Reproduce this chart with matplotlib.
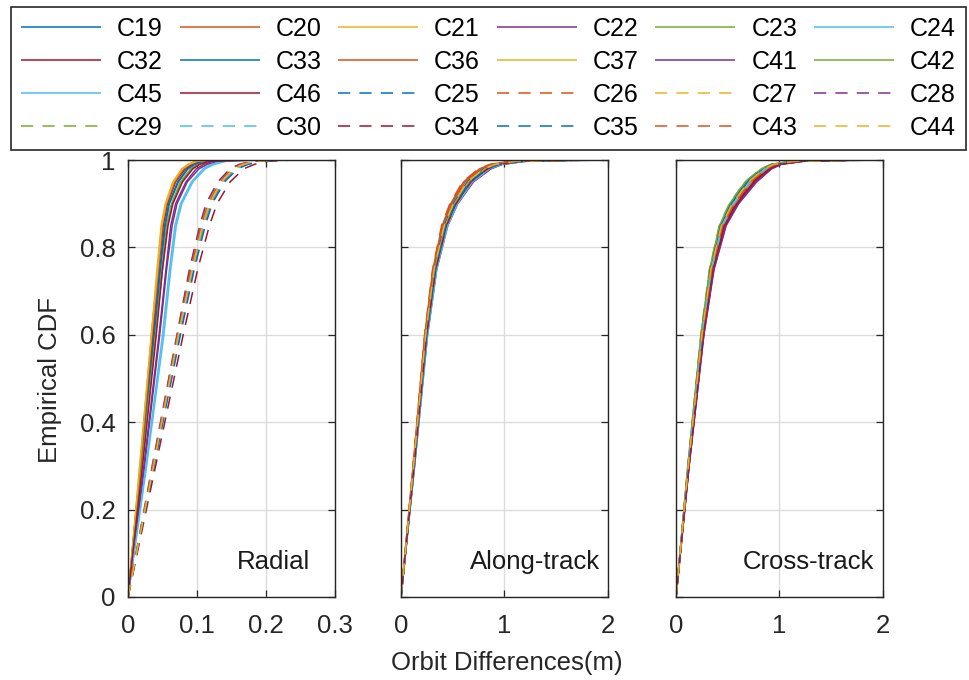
import matplotlib
matplotlib.use("Agg")
import matplotlib.pyplot as plt

plt.rcParams['font.family'] = ['Liberation Sans', 'DejaVu Sans']

# ---------------- data ----------------
sats = ["C19", "C20", "C21", "C22", "C23", "C24", "C32", "C33", "C36", "C37",
        "C41", "C42", "C45", "C46", "C25", "C26", "C27", "C28", "C29", "C30",
        "C34", "C35", "C43", "C44"]

# cumulative probability levels at which the quantiles were read
levels = [0, 0.3, 0.6, 0.75, 0.85, 0.9, 0.95, 0.98, 0.99, 0.997, 1.0]

# radial orbit differences (m) at each level, one row per satellite
radial_q = [
    [0, 0.019, 0.037, 0.046, 0.053, 0.059, 0.072, 0.086, 0.095, 0.106, 0.125],
    [0, 0.018, 0.034, 0.043, 0.049, 0.055, 0.067, 0.079, 0.088, 0.099, 0.118],
    [0, 0.017, 0.034, 0.042, 0.048, 0.054, 0.065, 0.078, 0.087, 0.097, 0.112],
    [0, 0.024, 0.046, 0.056, 0.064, 0.071, 0.086, 0.103, 0.115, 0.130, 0.152],
    [0, 0.020, 0.039, 0.049, 0.056, 0.063, 0.076, 0.091, 0.101, 0.114, 0.134],
    [0, 0.026, 0.050, 0.060, 0.068, 0.076, 0.092, 0.109, 0.121, 0.136, 0.160],
    [0, 0.018, 0.036, 0.044, 0.051, 0.057, 0.069, 0.083, 0.092, 0.103, 0.122],
    [0, 0.019, 0.038, 0.047, 0.054, 0.060, 0.073, 0.087, 0.097, 0.109, 0.130],
    [0, 0.018, 0.035, 0.044, 0.050, 0.056, 0.068, 0.081, 0.090, 0.101, 0.120],
    [0, 0.017, 0.034, 0.043, 0.049, 0.055, 0.066, 0.079, 0.089, 0.100, 0.121],
    [0, 0.023, 0.045, 0.055, 0.062, 0.069, 0.084, 0.099, 0.110, 0.123, 0.145],
    [0, 0.020, 0.040, 0.050, 0.057, 0.064, 0.078, 0.092, 0.103, 0.116, 0.140],
    [0, 0.027, 0.052, 0.062, 0.070, 0.078, 0.094, 0.112, 0.125, 0.142, 0.175],
    [0, 0.021, 0.041, 0.050, 0.058, 0.065, 0.079, 0.094, 0.104, 0.117, 0.200],
    [0, 0.037, 0.073, 0.093, 0.108, 0.118, 0.135, 0.153, 0.167, 0.186, 0.215],
    [0, 0.037, 0.075, 0.095, 0.110, 0.120, 0.138, 0.156, 0.171, 0.189, 0.225],
    [0, 0.036, 0.071, 0.090, 0.105, 0.114, 0.131, 0.149, 0.163, 0.181, 0.205],
    [0, 0.035, 0.071, 0.089, 0.104, 0.113, 0.130, 0.148, 0.161, 0.178, 0.210],
    [0, 0.036, 0.073, 0.092, 0.107, 0.117, 0.134, 0.152, 0.166, 0.184, 0.212],
    [0, 0.037, 0.074, 0.094, 0.109, 0.119, 0.136, 0.155, 0.169, 0.187, 0.220],
    [0, 0.040, 0.080, 0.101, 0.118, 0.129, 0.148, 0.168, 0.183, 0.203, 0.240],
    [0, 0.038, 0.076, 0.096, 0.112, 0.122, 0.140, 0.159, 0.174, 0.193, 0.232],
    [0, 0.036, 0.072, 0.091, 0.106, 0.116, 0.133, 0.151, 0.164, 0.182, 0.208],
    [0, 0.037, 0.073, 0.093, 0.108, 0.118, 0.135, 0.153, 0.167, 0.186, 0.218],
]

# along-track orbit differences (m)
along_q = [
    [0, 0.122, 0.240, 0.325, 0.425, 0.515, 0.650, 0.810, 0.920, 1.12, 1.55],
    [0, 0.118, 0.232, 0.312, 0.405, 0.490, 0.620, 0.780, 0.890, 1.08, 1.45],
    [0, 0.124, 0.243, 0.328, 0.430, 0.520, 0.660, 0.825, 0.935, 1.16, 1.70],
    [0, 0.130, 0.255, 0.345, 0.452, 0.548, 0.700, 0.870, 0.980, 1.20, 1.65],
    [0, 0.126, 0.247, 0.333, 0.436, 0.528, 0.668, 0.830, 0.940, 1.14, 1.60],
    [0, 0.131, 0.256, 0.343, 0.448, 0.540, 0.685, 0.850, 0.960, 1.18, 1.75],
    [0, 0.128, 0.250, 0.338, 0.442, 0.535, 0.680, 0.845, 0.955, 1.17, 1.80],
    [0, 0.121, 0.238, 0.320, 0.418, 0.505, 0.640, 0.800, 0.910, 1.10, 1.50],
    [0, 0.117, 0.230, 0.308, 0.398, 0.480, 0.605, 0.760, 0.870, 1.05, 1.40],
    [0, 0.123, 0.242, 0.326, 0.428, 0.518, 0.655, 0.815, 0.925, 1.13, 1.65],
    [0, 0.129, 0.253, 0.342, 0.450, 0.545, 0.695, 0.865, 0.975, 1.19, 1.70],
    [0, 0.125, 0.245, 0.330, 0.432, 0.522, 0.662, 0.822, 0.930, 1.14, 1.55],
    [0, 0.132, 0.258, 0.346, 0.452, 0.545, 0.690, 0.855, 0.965, 1.18, 1.90],
    [0, 0.127, 0.249, 0.336, 0.440, 0.532, 0.675, 0.838, 0.948, 1.16, 1.60],
    [0, 0.124, 0.244, 0.329, 0.431, 0.521, 0.661, 0.820, 0.930, 1.14, 1.85],
    [0, 0.116, 0.228, 0.305, 0.392, 0.472, 0.595, 0.750, 0.860, 1.04, 1.95],
    [0, 0.122, 0.240, 0.323, 0.422, 0.510, 0.648, 0.808, 0.918, 1.12, 1.70],
    [0, 0.128, 0.251, 0.339, 0.446, 0.540, 0.688, 0.855, 0.965, 1.18, 1.75],
    [0, 0.123, 0.242, 0.326, 0.427, 0.517, 0.655, 0.815, 0.925, 1.13, 1.60],
    [0, 0.130, 0.254, 0.342, 0.448, 0.542, 0.690, 0.858, 0.968, 1.19, 2.00],
    [0, 0.127, 0.248, 0.335, 0.438, 0.530, 0.672, 0.835, 0.945, 1.16, 1.80],
    [0, 0.125, 0.245, 0.331, 0.433, 0.524, 0.664, 0.826, 0.936, 1.15, 1.65],
    [0, 0.118, 0.232, 0.311, 0.402, 0.485, 0.612, 0.770, 0.880, 1.06, 1.90],
    [0, 0.121, 0.238, 0.320, 0.418, 0.505, 0.640, 0.800, 0.910, 1.11, 1.75],
]

# cross-track orbit differences (m)
cross_q = [
    [0, 0.118, 0.250, 0.338, 0.440, 0.545, 0.700, 0.855, 0.945, 1.13, 1.55],
    [0, 0.121, 0.257, 0.348, 0.455, 0.565, 0.725, 0.875, 0.965, 1.16, 1.65],
    [0, 0.122, 0.259, 0.350, 0.458, 0.570, 0.735, 0.885, 0.975, 1.17, 1.70],
    [0, 0.126, 0.268, 0.365, 0.480, 0.600, 0.770, 0.920, 1.010, 1.22, 1.80],
    [0, 0.115, 0.243, 0.328, 0.425, 0.525, 0.675, 0.830, 0.925, 1.10, 1.50],
    [0, 0.120, 0.255, 0.345, 0.450, 0.560, 0.720, 0.870, 0.960, 1.15, 1.60],
    [0, 0.124, 0.263, 0.357, 0.468, 0.585, 0.750, 0.900, 0.990, 1.19, 1.75],
    [0, 0.117, 0.247, 0.333, 0.432, 0.535, 0.688, 0.842, 0.935, 1.12, 1.55],
    [0, 0.121, 0.256, 0.347, 0.453, 0.563, 0.724, 0.874, 0.964, 1.15, 1.65],
    [0, 0.119, 0.252, 0.341, 0.445, 0.552, 0.710, 0.862, 0.952, 1.14, 1.60],
    [0, 0.127, 0.270, 0.368, 0.485, 0.605, 0.780, 0.925, 1.015, 1.23, 1.85],
    [0, 0.114, 0.241, 0.325, 0.420, 0.518, 0.668, 0.825, 0.920, 1.09, 1.45],
    [0, 0.120, 0.254, 0.344, 0.449, 0.558, 0.718, 0.868, 0.958, 1.15, 1.60],
    [0, 0.125, 0.265, 0.360, 0.473, 0.590, 0.758, 0.908, 0.998, 1.20, 1.75],
    [0, 0.116, 0.245, 0.331, 0.430, 0.532, 0.684, 0.838, 0.932, 1.11, 1.70],
    [0, 0.120, 0.254, 0.344, 0.450, 0.558, 0.718, 0.868, 0.958, 1.15, 1.80],
    [0, 0.118, 0.249, 0.336, 0.437, 0.541, 0.696, 0.850, 0.942, 1.13, 1.65],
    [0, 0.126, 0.267, 0.363, 0.478, 0.598, 0.772, 0.922, 1.012, 1.22, 1.90],
    [0, 0.114, 0.240, 0.323, 0.418, 0.515, 0.665, 0.822, 0.918, 1.09, 1.60],
    [0, 0.119, 0.251, 0.340, 0.443, 0.550, 0.708, 0.860, 0.950, 1.14, 2.00],
    [0, 0.123, 0.261, 0.354, 0.464, 0.580, 0.745, 0.895, 0.985, 1.18, 1.85],
    [0, 0.117, 0.246, 0.332, 0.432, 0.534, 0.687, 0.842, 0.935, 1.12, 1.70],
    [0, 0.121, 0.256, 0.346, 0.452, 0.562, 0.722, 0.872, 0.962, 1.16, 1.75],
    [0, 0.118, 0.249, 0.337, 0.438, 0.543, 0.698, 0.852, 0.944, 1.13, 1.95],
]

panel_names = ["Radial", "Along-track", "Cross-track"]
x_limits = [0.3, 2, 2]
x_ticks = [[0, 0.1, 0.2, 0.3], [0, 1, 2], [0, 1, 2]]
x_ticklabels = [["0", "0.1", "0.2", "0.3"], ["0", "1", "2"], ["0", "1", "2"]]
y_ticks = [0, 0.2, 0.4, 0.6, 0.8, 1.0]
y_ticklabels = ["0", "0.2", "0.4", "0.6", "0.8", "1"]

# ---------------- style ----------------
matlab_colors = ['#0072BD', '#D95319', '#EDB120', '#7E2F8E', '#77AC30', '#4DBEEE', '#A2142F']
n_solid = 14
FS = 18.5

W, H = 970, 680
fig = plt.figure(figsize=(W / 100, H / 100), dpi=100)

ax_left_px = [128, 401, 676]
ax_w_px = 207
ax_top_px, ax_bot_px = 160, 597

axes = []
for i in range(3):
    ax = fig.add_axes([ax_left_px[i] / W, 1 - ax_bot_px / H,
                       ax_w_px / W, (ax_bot_px - ax_top_px) / H])
    axes.append(ax)

data_panels = [radial_q, along_q, cross_q]
handles = []
for p, ax in enumerate(axes):
    for k, name in enumerate(sats):
        col = matlab_colors[k % 7]
        if k < n_solid:
            ls = '-'
        else:
            ls = (0, (8, 6))
        ln, = ax.plot(data_panels[p][k], levels, color=col, lw=1.1,
                      linestyle=ls, label=name, solid_capstyle='butt',
                      dash_capstyle='butt')
        if p == 0:
            handles.append(ln)

text_pos = [(0.158, 0.08), (0.663, 0.08), (0.647, 0.08)]
for p, ax in enumerate(axes):
    ax.set_xlim(0, x_limits[p])
    ax.set_ylim(0, 1)
    ax.set_xticks(x_ticks[p])
    ax.set_xticklabels(x_ticklabels[p])
    ax.set_yticks(y_ticks)
    if p == 0:
        ax.set_yticklabels(y_ticklabels)
    else:
        ax.set_yticklabels([])
    ax.grid(True, color='#DCDCDC', lw=1.0)
    ax.set_axisbelow(True)
    ax.tick_params(direction='in', length=5, width=0.9, top=True, right=True,
                   labelsize=FS, colors='#262626', pad=12)
    ax.tick_params(axis='y', pad=9)
    for s in ax.spines.values():
        s.set_color('#262626')
        s.set_linewidth(1.0)
    ax.text(text_pos[p][0], text_pos[p][1], panel_names[p], fontsize=FS,
            ha='left', va='center', color='#1a1a1a')

fig.text(50 / W, 1 - 380 / H, "Empirical CDF", rotation=90, fontsize=FS,
         ha='center', va='center', color='#262626')
fig.text(507 / W, 1 - 663 / H, "Orbit Differences(m)", fontsize=FS,
         ha='center', va='center', color='#262626')

# legend is filled row by row (6 columns x 4 rows) as in the reference
ncol, nrow = 6, 4
order = [r * ncol + c for c in range(ncol) for r in range(nrow)]
leg = fig.legend(handles=[handles[i] for i in order],
                 labels=[sats[i] for i in order], ncol=ncol, loc='upper left',
                 bbox_to_anchor=(11 / W, 1 - 142 / H, 955 / W, 135 / H),
                 bbox_transform=fig.transFigure, mode='expand',
                 fontsize=18, handlelength=3.2, handletextpad=0.64,
                 columnspacing=0.8, labelspacing=0.36, borderpad=0.4,
                 borderaxespad=0, fancybox=False, framealpha=1,
                 edgecolor='#262626')
leg.get_frame().set_linewidth(1.2)

fig.savefig("out.png", dpi=100)
